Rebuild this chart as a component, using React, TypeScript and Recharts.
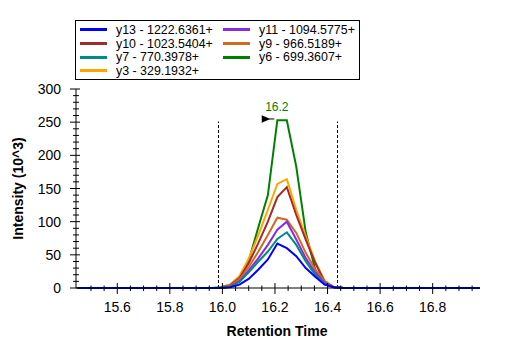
import { Legend, Line, LineChart, ReferenceDot, ReferenceLine, XAxis, YAxis } from "recharts";

// retention times (min) of the sampled scans
const retentionTimes = [
  15.45, 15.957, 15.993, 16.029, 16.065, 16.101, 16.137, 16.173, 16.209, 16.245, 16.281, 16.317,
  16.353, 16.389, 16.425, 16.461, 16.497, 16.98,
];

// intensities (10^3) per transition
const y13 = [0, 0, 0, 1, 5, 14, 28, 43, 67, 60, 48, 30, 17, 5, 1, 0, 0, 0];
const y10 = [0, 0, 0, 4, 15, 38, 68, 100, 137, 152, 110, 73, 38, 9, 1, 0, 0, 0];
const y7 = [0, 0, 0, 2, 9, 24, 40, 55, 74, 84, 65, 40, 20, 6, 1, 0, 0, 0];
const y3 = [0, 0, 0, 5, 18, 45, 80, 118, 157, 164, 118, 78, 40, 11, 1, 0, 0, 0];
const y11 = [0, 0, 0, 2, 10, 27, 45, 65, 88, 100, 73, 45, 23, 8, 1, 0, 0, 0];
const y9 = [0, 0, 0, 3, 13, 32, 55, 80, 106, 103, 83, 53, 28, 10, 1, 0, 0, 0];
const y6 = [0, 0, 1, 5, 15, 42, 92, 140, 253, 253, 183, 84, 28, 6, 1, 0, 0, 0];

const xMajorTicks = [15.6, 15.8, 16.0, 16.2, 16.4, 16.6, 16.8];
const yMajorTicks = [0, 50, 100, 150, 200, 250, 300];
const xDomain: [number, number] = [15.443, 16.98];
const yDomain: [number, number] = [0, 300];

const apexTime = 16.209;
const apexValue = 253;
const apexLabel = "16.2";
const boundaryTimes = [15.985, 16.438];
const boundaryTop = 251;

const series = [
  { key: "y13", name: "y13 - 1222.6361+", color: "#0000FF", values: y13 },
  { key: "y10", name: "y10 - 1023.5404+", color: "#A52A2A", values: y10 },
  { key: "y7", name: "y7 - 770.3978+", color: "#008B8B", values: y7 },
  { key: "y3", name: "y3 - 329.1932+", color: "#FFA500", values: y3 },
  { key: "y11", name: "y11 - 1094.5775+", color: "#8A2BE2", values: y11 },
  { key: "y9", name: "y9 - 966.5189+", color: "#D2691E", values: y9 },
  { key: "y6", name: "y6 - 699.3607+", color: "#008000", values: y6 },
];

// draw order: green underneath, blue on top
const drawOrder = ["y6", "y3", "y10", "y9", "y11", "y7", "y13"];

const data = retentionTimes.map((t, i) => {
  const row: Record<string, number> = { t };
  series.forEach((s) => (row[s.key] = s.values[i]));
  return row;
});

const xTicks = Array.from({ length: 30 }, (_, i) => Math.round((15.5 + i * 0.05) * 100) / 100);
const yTicks = Array.from({ length: 31 }, (_, i) => i * 10);

const FONT = "Arial, 'Liberation Sans', sans-serif";

function XTick({ x, y, payload }: any) {
  const v = payload.value as number;
  const major = xMajorTicks.some((m) => Math.abs(m - v) < 1e-6);
  return (
    <g>
      <line x1={x} x2={x} y1={major ? y - 5 : y - 2.5} y2={major ? y + 6 : y + 3} stroke="#000" />
      {major && (
        <text x={x} y={y + 24} textAnchor="middle" fontSize={14} fill="#000">
          {v.toFixed(1)}
        </text>
      )}
    </g>
  );
}

function YTick({ x, y, payload }: any) {
  const v = payload.value as number;
  const major = yMajorTicks.includes(v);
  return (
    <g>
      <line x1={major ? x - 6 : x - 3} x2={major ? x + 4 : x + 3} y1={y} y2={y} stroke="#000" />
      {major && (
        <text x={x - 15} y={y + 5} textAnchor="end" fontSize={14} fill="#000">
          {v}
        </text>
      )}
    </g>
  );
}

function LegendBox() {
  return (
    <div
      style={{
        width: 285,
        height: 60,
        boxSizing: "border-box",
        border: "1px solid #000",
        background: "#fff",
        padding: "2px 0 0 4px",
        display: "grid",
        gridTemplateColumns: "143px 1fr",
        gridTemplateRows: "repeat(4, 13.7px)",
        gridAutoFlow: "column",
        fontSize: 12.4,
        fontFamily: FONT,
        color: "#000",
      }}
    >
      {series.map((s) => (
        <div key={s.key} style={{ display: "flex", alignItems: "center", whiteSpace: "nowrap" }}>
          <span style={{ display: "inline-block", width: 27, height: 3, background: s.color, marginRight: 9 }} />
          <span>{s.name}</span>
        </div>
      ))}
    </div>
  );
}

function ApexMarker({ cx, cy }: any) {
  return (
    <g>
      <text x={cx - 0.5} y={cy - 9} textAnchor="middle" fontSize={12} fill="#008000">
        {apexLabel}
      </text>
      <polygon points={`${cx - 15.6},${cy - 5} ${cx - 15.6},${cy + 2.5} ${cx - 7},${cy - 1.2}`} fill="#000" />
      <line x1={cx - 8} x2={cx - 3} y1={cy - 1.2} y2={cy - 1.2} stroke="#000" />
    </g>
  );
}

export default function App() {
  return (
    <div style={{ position: "absolute", left: 0, top: 0, width: 507, height: 351, background: "#fff", fontFamily: FONT }}>
      <LineChart width={507} height={351} data={data} margin={{ top: 89, right: 27, bottom: 0, left: 0 }}>
        <XAxis
          dataKey="t"
          type="number"
          domain={xDomain}
          ticks={xTicks}
          interval={0}
          allowDataOverflow
          height={63}
          tickSize={0}
          tickMargin={0}
          tickLine={false}
          axisLine={{ stroke: "#000" }}
          tick={(p: any) => <XTick {...p} />}
          label={({ viewBox }: any) => (
            <text
              x={viewBox.x + viewBox.width / 2 - 1}
              y={viewBox.y + 47.5}
              textAnchor="middle"
              fontSize={14}
              fontWeight="bold"
              fill="#000"
            >
              Retention Time
            </text>
          )}
        />
        <YAxis
          type="number"
          domain={yDomain}
          ticks={yTicks}
          interval={0}
          width={76}
          tickSize={0}
          tickMargin={0}
          tickLine={false}
          axisLine={{ stroke: "#000" }}
          tick={(p: any) => <YTick {...p} />}
          label={({ viewBox }: any) => (
            <text
              transform={`translate(18, ${viewBox.y + viewBox.height / 2}) rotate(-90)`}
              textAnchor="middle"
              dominantBaseline="central"
              fontSize={14}
              fontWeight="bold"
              fill="#000"
            >
              Intensity (10^3)
            </text>
          )}
        />
        <Legend
          layout="horizontal"
          verticalAlign="middle"
          content={() => <LegendBox />}
          wrapperStyle={{ left: 75, top: 20, width: 285 }}
        />
        {boundaryTimes.map((bt) => (
          <ReferenceLine
            key={bt}
            segment={[
              { x: bt, y: 0 },
              { x: bt, y: boundaryTop },
            ]}
            stroke="#000"
            strokeDasharray="3 2"
          />
        ))}
        {drawOrder.map((k) => {
          const s = series.find((d) => d.key === k)!;
          return (
            <Line
              key={k}
              type="linear"
              dataKey={k}
              name={s.name}
              stroke={s.color}
              strokeWidth={2}
              dot={false}
              activeDot={false}
              isAnimationActive={false}
            />
          );
        })}
        <ReferenceDot x={apexTime} y={apexValue} r={0} shape={(p: any) => <ApexMarker {...p} />} />
      </LineChart>
    </div>
  );
}
